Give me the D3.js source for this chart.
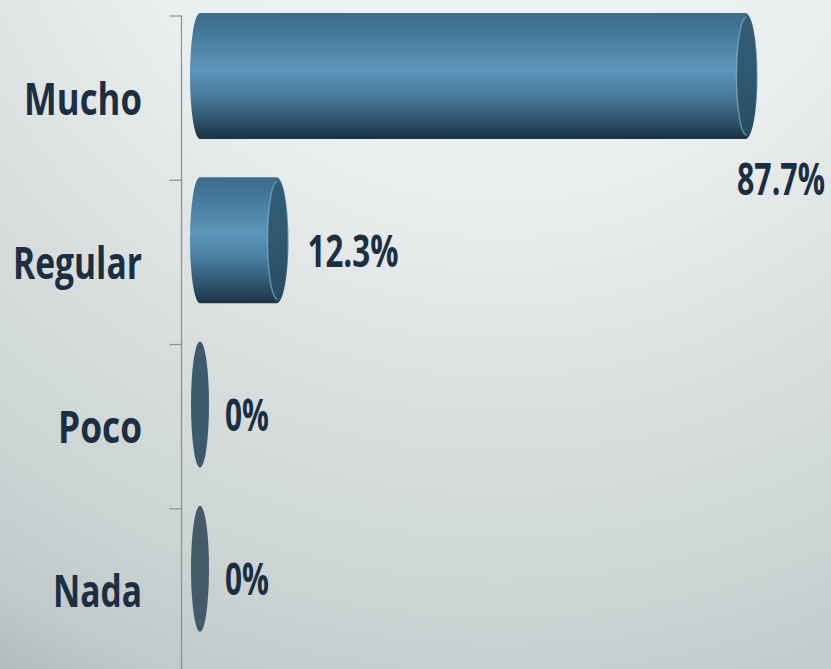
<!DOCTYPE html>
<html>
<head>
<meta charset="utf-8">
<script src="https://cdn.jsdelivr.net/npm/d3@7"></script>
<style>
  html, body { margin: 0; padding: 0; background: #dfe4e4; }
  svg { display: block; }
  text { font-family: "Open Sans", "DejaVu Sans Condensed", sans-serif; font-weight: bold; fill: #1c2f42; }
</style>
</head>
<body>
<div id="chart"></div>
<script>
// data
var categories = ["Mucho", "Regular", "Poco", "Nada"];
var values = [87.7, 12.3, 0, 0];
var valueLabels = ["87.7%", "12.3%", "0%", "0%"];

var width = 831, height = 669;

var svg = d3.select("#chart").append("svg")
  .attr("width", width)
  .attr("height", height);

var defs = svg.append("defs");

// background
var bg = defs.append("radialGradient")
  .attr("id", "bg")
  .attr("gradientUnits", "userSpaceOnUse")
  .attr("cx", 500).attr("cy", -200).attr("r", 1010);
[["0%", "#f2f4f4"], ["38%", "#eceff0"], ["53%", "#dfe4e4"], ["80%", "#ccd4d4"], ["92%", "#c1cacb"], ["100%", "#afbabb"]]
  .forEach(function(s) { bg.append("stop").attr("offset", s[0]).attr("stop-color", s[1]); });

svg.append("rect")
  .attr("width", width).attr("height", height)
  .attr("fill", "url(#bg)");

// cylinder body shading
var body = defs.append("linearGradient")
  .attr("id", "body")
  .attr("x1", 0).attr("y1", 0).attr("x2", 0).attr("y2", 1);
[["0%", "#3d6b8b"], ["12%", "#427596"], ["45%", "#5d95ba"], ["62%", "#4c81a5"], ["85%", "#2f546d"], ["100%", "#1a3244"]]
  .forEach(function(s) { body.append("stop").attr("offset", s[0]).attr("stop-color", s[1]); });

var cap = defs.append("linearGradient")
  .attr("id", "cap")
  .attr("x1", 0).attr("y1", 0).attr("x2", 0).attr("y2", 1);
[["0%", "#335c78"], ["50%", "#30586f"], ["100%", "#284a60"]]
  .forEach(function(s) { cap.append("stop").attr("offset", s[0]).attr("stop-color", s[1]); });

// scales
var x = d3.scaleLinear()
  .domain([0, 100])
  .range([200, 822]);

var y = d3.scaleBand()
  .domain(categories)
  .range([15.5, 672.5]);

var capColor = d3.scaleLinear()
  .domain([0, categories.length - 1])
  .range(["#2f5670", "#445a68"]);

// axis line and ticks
var axisG = svg.append("g")
  .attr("transform", "translate(181.5,0)");
axisG.append("line")
  .attr("y1", y.range()[0]).attr("y2", y.range()[1])
  .attr("stroke", "#8a8f92").attr("stroke-width", 1.2);
axisG.selectAll(".tk")
  .data(categories)
  .enter().append("line")
  .attr("x1", -12).attr("x2", 0)
  .attr("y1", function(d) { return y(d) + 0.5; })
  .attr("y2", function(d) { return y(d) + 0.5; })
  .attr("stroke", "#8a8f92").attr("stroke-width", 1.2);

// place a text with its left edge at (x, y), squeezed to width w
// (the original narrow font is not installed)
function place(t, px, py, w) {
  var nat = t.node().getComputedTextLength();
  t.attr("transform", "translate(" + px + "," + py + ") scale(" + (w / nat) + ",1)");
}
var catWidths = { Mucho: 118, Regular: 129, Poco: 84, Nada: 89 };
var valWidths = { "87.7%": 88, "12.3%": 91, "0%": 44 };

// category labels, right edge at x = 142
svg.selectAll(".cat")
  .data(categories)
  .enter().append("text")
  .attr("class", "cat")
  .style("font-size", "44px")
  .text(function(d) { return d; })
  .each(function(d) {
    place(d3.select(this), 142 - catWidths[d], y(d) + y.bandwidth() / 2 + 17, catWidths[d]);
  });

// bars
var rx = 9, barH = 126;
var bars = svg.selectAll(".bar")
  .data(categories)
  .enter().append("g")
  .attr("class", "bar");

bars.each(function(d, i) {
  var g = d3.select(this);
  var x0 = x(0), x1 = x(values[i]);
  var top = y(d) - 2.5, bot = top + barH, ry = barH / 2, cy = top + ry;
  if (values[i] > 0) {
    g.append("path")
      .attr("d", "M" + x0 + "," + top + "L" + x1 + "," + top +
        "A" + (rx + 3) + "," + ry + " 0 0 1 " + x1 + "," + bot +
        "L" + x0 + "," + bot +
        "A" + (rx + 1) + "," + ry + " 0 0 1 " + x0 + "," + top + "Z")
      .attr("fill", "url(#body)");
    g.append("ellipse")
      .attr("cx", x1 + 1).attr("cy", cy)
      .attr("rx", rx + 1).attr("ry", ry - 2)
      .attr("fill", "url(#cap)");
    // bevel highlight on the rim
    g.append("path")
      .attr("d", "M" + (x1 + 1) + "," + (top + 4) +
        "A" + (rx + 1) + "," + (ry - 4) + " 0 0 0 " + (x1 + 1) + "," + (bot - 4))
      .attr("fill", "none")
      .attr("stroke", "#8cc0e0").attr("stroke-opacity", 0.55).attr("stroke-width", 1.5);
  } else {
    g.append("ellipse")
      .attr("cx", x0).attr("cy", cy)
      .attr("rx", rx).attr("ry", ry)
      .attr("fill", capColor(i));
  }
});

// value labels
svg.selectAll(".val")
  .data(categories)
  .enter().append("text")
  .attr("class", "val")
  .style("font-size", "44px")
  .text(function(d, i) { return valueLabels[i]; })
  .each(function(d, i) {
    var t = d3.select(this);
    var w = valWidths[valueLabels[i]];
    var start = x(values[i]) + rx + (values[i] > 0 ? 22 : 16);
    if (start + w > width - 2) {
      place(t, width - 6 - w, y(d) + barH + 53, w);
    } else {
      place(t, start, y(d) + y.bandwidth() / 2 + 5, w);
    }
  });
</script>
</body>
</html>
